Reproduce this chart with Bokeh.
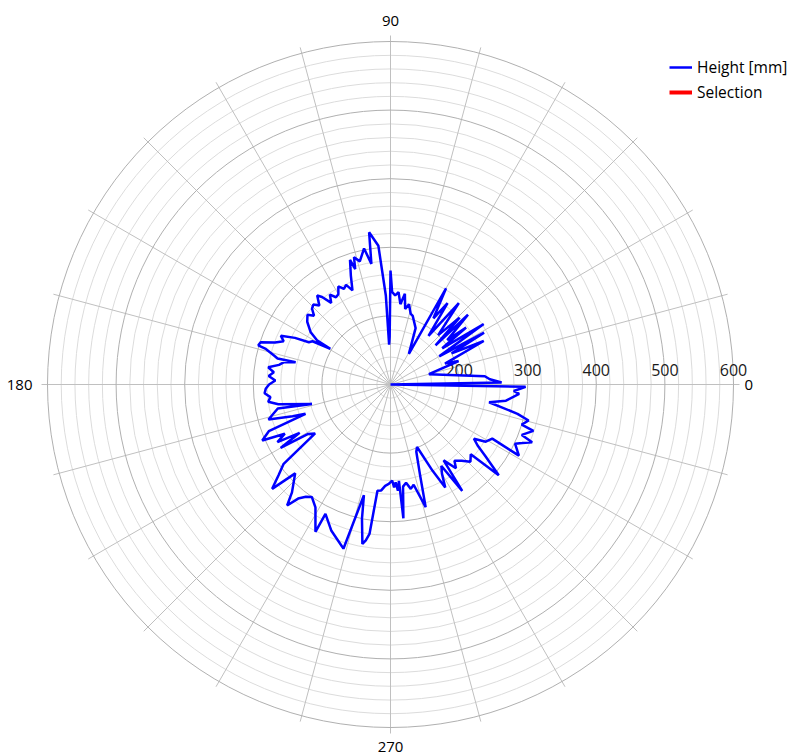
import numpy as np
from bokeh.plotting import figure
from bokeh.models import Range1d, Legend, LegendItem
from bokeh.core.properties import value
from bokeh.embed import file_html
from bokeh.resources import INLINE

# ---- data (angle in degrees, height in mm) ----
angles_deg = [
    0, 1, 3, 5, 15, 19, 21, 25, 27, 29,
    30, 33, 35, 37, 38, 42, 41, 44, 46, 50,
    52, 55, 57, 60, 59, 66, 72, 74, 77, 79,
    81, 83, 85, 87, 89, 90, 91, 92, 93, 95,
    98, 99, 101, 104, 106, 107, 108, 110, 112, 114,
    116, 118, 120, 122, 124, 126, 128, 129.5, 132, 134,
    136, 138, 140, 143, 146.8, 149, 149.3, 151, 152.6, 154,
    156, 158, 160, 162, 163.5, 164, 166, 167, 166.8, 168,
    170, 172, 174, 176, 178, 180, 182, 184, 186, 188,
    190, 194, 192, 196, 198, 199, 201, 203.6, 205, 207,
    208, 210, 211, 213, 216.6, 219, 221.4, 223, 227.6, 229.5,
    231, 233, 235, 238.6, 243, 243.3, 248, 253.5, 254, 256.5,
    258, 260, 261, 262, 263, 265, 267, 269, 271, 272,
    273, 274, 275, 275.5, 277, 279, 281, 283, 286, 288,
    291, 293, 296, 298, 300, 302, 304, 305, 308, 310,
    313, 316, 319, 320, 323, 325, 327, 329, 332, 331,
    334.6, 336, 337.8, 339, 342, 343, 345.4, 347, 349.8, 352,
    355.8, 357, 359,
]
heights_mm = [
    100, 262, 245, 238, 158, 205, 185, 250, 200, 256,
    182, 262, 192, 238, 205, 252, 187, 240, 200, 255,
    190, 245, 215, 262, 152, 190, 205, 207, 220, 212,
    234, 218, 235, 230, 235, 266, 170, 158, 230, 303,
    324, 278, 302, 285, 293, 276, 291, 269, 248, 259,
    255, 262, 252, 250, 258, 247, 262, 268, 255, 262,
    259, 250, 258, 252, 239, 225, 202, 230, 234, 255,
    275, 268, 279, 299, 301, 290, 275, 269, 242, 258,
    265, 280, 271, 278, 268, 277, 282, 284, 276, 280,
    266, 218, 268, 285, 250, 231, 290, 304, 270, 285,
    250, 285, 240, 231, 294, 310, 330, 290, 313, 332,
    314, 305, 300, 310, 341, 311, 330, 347, 349, 266,
    300, 336, 330, 320, 256, 255, 248, 245, 240, 250,
    243, 255, 241, 296, 250, 245, 255, 250, 286, 240,
    205, 199, 240, 270, 250, 240, 287, 235, 255, 245,
    252, 262, 255, 306, 273, 255, 245, 262, 268, 314,
    301, 310, 323, 305, 319, 300, 308, 290, 246, 270,
    288, 280, 297,
]
series_names = ["Height [mm]", "Selection"]
radial_tick_labels = [200, 300, 400, 500, 600]
radial_min, radial_max, radial_minor_step = 100, 600, 20
angle_tick_labels = [0, 90, 180, 270]
spoke_step_deg = 15

# ---- layout ----
W, H = 789, 755
CX, CY = 390, 384            # pole position in canvas pixels
K = 343.0 / (radial_max - radial_min)   # pixels per unit

p = figure(width=W, height=H, output_backend="svg", toolbar_location=None,
           x_range=Range1d(-CX / K, (W - CX) / K),
           y_range=Range1d(-(H - CY) / K, CY / K),
           min_border=0, outline_line_color=None)
p.axis.visible = False
p.grid.visible = False
p.background_fill_color = "white"

# grid rings
ring_vals = list(range(radial_min + radial_minor_step, radial_max + 1, radial_minor_step))
minor = [v - radial_min for v in ring_vals if v % 100 != 0]
major = [v - radial_min for v in ring_vals if v % 100 == 0]
p.circle(x=[0] * len(minor), y=[0] * len(minor), radius=minor,
         fill_color=None, line_color="#dcdcdc", line_width=1)

# spokes
spk = np.deg2rad(np.arange(0, 360, spoke_step_deg))
spoke_len = (radial_max - radial_min) + 6 / K
p.segment(x0=[0] * len(spk), y0=[0] * len(spk),
          x1=list(spoke_len * np.cos(spk)), y1=list(spoke_len * np.sin(spk)),
          line_color="#c0c0c0", line_width=1)
p.circle(x=[0] * len(major), y=[0] * len(major), radius=major,
         fill_color=None, line_color="#b0b0b0", line_width=1)

# radial labels
p.text(x=[v - radial_min for v in radial_tick_labels], y=[15 / K] * len(radial_tick_labels),
       text=[str(v) for v in radial_tick_labels],
       text_align="center", text_baseline="middle",
       text_font=value("Open Sans"), text_font_size="16px", text_color="#1a1a1a")

# angle labels
lab_r_px = [354, 364, 358, 362]
lab_align = ["left", "center", "right", "center"]
for a, rp, al in zip(angle_tick_labels, lab_r_px, lab_align):
    t = np.deg2rad(a)
    p.text(x=[rp / K * np.cos(t)], y=[rp / K * np.sin(t)], text=[str(a)],
           text_align=al, text_baseline="middle",
           text_font=value("Open Sans"), text_font_size="15px", text_color="#000000")

# data line
th = np.deg2rad(np.array(angles_deg, dtype=float))
rr = np.clip(np.array(heights_mm, dtype=float) - radial_min, 0, None)
xs = np.append(rr * np.cos(th), rr[0] * np.cos(th[0]))
ys = np.append(rr * np.sin(th), rr[0] * np.sin(th[0]))
main = p.line(list(xs), list(ys), line_color="#0000ff", line_width=2.5)
sel = p.line([np.nan], [np.nan], line_color="#ff0000", line_width=4)

legend = Legend(items=[LegendItem(label=series_names[0], renderers=[main]),
                       LegendItem(label=series_names[1], renderers=[sel])],
                location=(669, H - 103), padding=0, margin=0, spacing=3,
                glyph_width=23, glyph_height=20, label_height=20, label_standoff=5,
                label_text_font="Open Sans", label_text_font_size="15.5px",
                label_text_color="#000000",
                border_line_color=None, background_fill_alpha=0)
p.add_layout(legend)

open("out.html", "w").write(file_html(p, INLINE))
